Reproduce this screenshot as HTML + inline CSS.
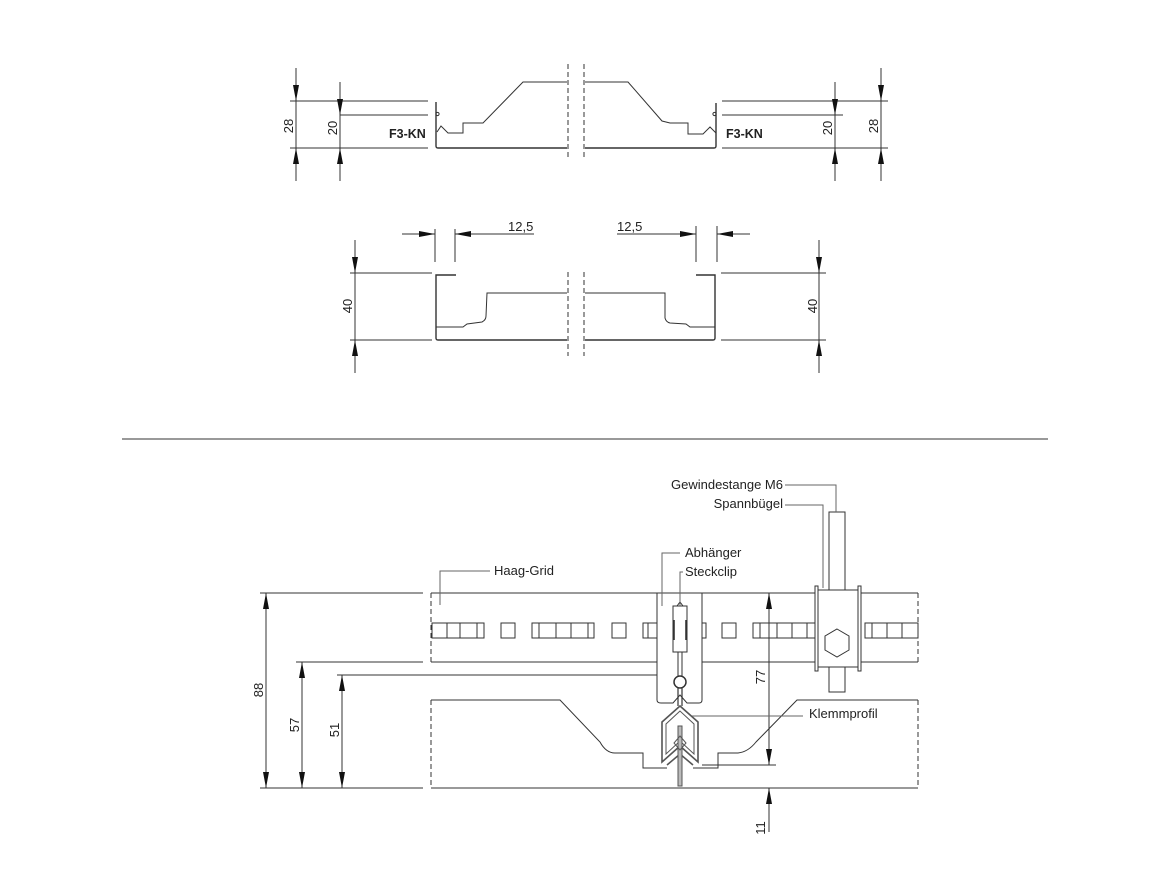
<!DOCTYPE html>
<html><head><meta charset="utf-8"><style>
html,body{margin:0;padding:0;background:#fff;}
svg{display:block;}
text{font-family:"Liberation Sans",sans-serif;fill:#222;}
</style></head><body>
<svg width="1170" height="878" viewBox="0 0 1170 878" xmlns="http://www.w3.org/2000/svg">
<defs>
<marker id="a" viewBox="0 0 10 10" refX="10" refY="5" markerWidth="10" markerHeight="6" orient="auto-start-reverse" markerUnits="userSpaceOnUse"><path d="M0,0 L10,5 L0,10Z" fill="#111"/></marker>
<marker id="b" viewBox="0 0 16 6" refX="16" refY="3" markerWidth="16" markerHeight="6" orient="auto-start-reverse" markerUnits="userSpaceOnUse"><path d="M0,0 L16,3 L0,6Z" fill="#111"/></marker>
</defs>
<g stroke="#333" stroke-width="1" fill="none">
<!-- ROW 1 left -->
<line x1="290" y1="101" x2="428" y2="101"/>
<line x1="340" y1="115" x2="428" y2="115"/>
<line x1="290" y1="148" x2="428" y2="148"/>
<line x1="296" y1="68" x2="296" y2="101" marker-end="url(#b)"/>
<line x1="296" y1="101" x2="296" y2="148"/>
<line x1="296" y1="181" x2="296" y2="148" marker-end="url(#b)"/>
<line x1="340" y1="82" x2="340" y2="115" marker-end="url(#b)"/>
<line x1="340" y1="115" x2="340" y2="148"/>
<line x1="340" y1="181" x2="340" y2="148" marker-end="url(#b)"/>
<path d="M436,102 L436,146 Q436,148 438,148 L567,148" stroke-width="1.4"/>
<circle cx="437.5" cy="114" r="1.6"/>
<path d="M437,132 L441,126 L448,133 L463,133 L463,123 L483,123 L523,82 L567,82"/>
<line x1="568" y1="64" x2="568" y2="160" stroke-dasharray="5,3"/>
<line x1="584" y1="64" x2="584" y2="160" stroke-dasharray="5,3"/>
<!-- ROW 1 right -->
<path d="M585,82 L628,82 L662,121 L670,123 L688,123 L688,134 L703,134 L710,127 L716,133"/>
<path d="M716,103 L716,146 Q716,148 714,148 L585,148" stroke-width="1.4"/>
<circle cx="714.5" cy="114" r="1.6"/>
<line x1="722" y1="101" x2="888" y2="101"/>
<line x1="722" y1="115" x2="843" y2="115"/>
<line x1="722" y1="148" x2="888" y2="148"/>
<line x1="835" y1="82" x2="835" y2="115" marker-end="url(#b)"/>
<line x1="835" y1="115" x2="835" y2="148"/>
<line x1="835" y1="181" x2="835" y2="148" marker-end="url(#b)"/>
<line x1="881" y1="68" x2="881" y2="101" marker-end="url(#b)"/>
<line x1="881" y1="101" x2="881" y2="148"/>
<line x1="881" y1="181" x2="881" y2="148" marker-end="url(#b)"/>
<!-- ROW 2 left -->
<line x1="350" y1="273" x2="432" y2="273"/>
<line x1="350" y1="340" x2="432" y2="340"/>
<line x1="355" y1="240" x2="355" y2="273" marker-end="url(#b)"/>
<line x1="355" y1="273" x2="355" y2="340"/>
<line x1="355" y1="373" x2="355" y2="340" marker-end="url(#b)"/>
<line x1="402" y1="234" x2="435" y2="234" marker-end="url(#b)"/>
<line x1="534" y1="234" x2="455" y2="234" marker-end="url(#b)"/>
<line x1="435" y1="229" x2="435" y2="262"/>
<line x1="455" y1="229" x2="455" y2="262"/>
<path d="M456,275 L436,275 L436,338 Q436,340 438,340 L567,340" stroke-width="1.4"/>
<path d="M436,327 L463,327 L467,324 L482,322 Q486,320 486,316 L487,293 L567,293"/>
<line x1="568" y1="272" x2="568" y2="356" stroke-dasharray="5,3"/>
<line x1="584" y1="272" x2="584" y2="356" stroke-dasharray="5,3"/>
<!-- ROW 2 right -->
<path d="M585,293 L665,293 L665,318 Q666,322 670,323 L686,324 L690,327 L715,327"/>
<path d="M696,275 L715,275 L715,338 Q715,340 713,340 L585,340" stroke-width="1.4"/>
<line x1="721" y1="273" x2="826" y2="273"/>
<line x1="721" y1="340" x2="826" y2="340"/>
<line x1="819" y1="240" x2="819" y2="273" marker-end="url(#b)"/>
<line x1="819" y1="273" x2="819" y2="340"/>
<line x1="819" y1="373" x2="819" y2="340" marker-end="url(#b)"/>
<line x1="617" y1="234" x2="696" y2="234" marker-end="url(#b)"/>
<line x1="750" y1="234" x2="717" y2="234" marker-end="url(#b)"/>
<line x1="696" y1="226" x2="696" y2="262"/>
<line x1="717" y1="226" x2="717" y2="262"/>
<!-- separator -->
<line x1="122" y1="439" x2="1048" y2="439"/>
<!-- BOTTOM -->
<line x1="260" y1="593" x2="423" y2="593"/>
<line x1="431" y1="593" x2="918" y2="593"/>
<line x1="296" y1="662" x2="423" y2="662"/>
<line x1="431" y1="662" x2="918" y2="662"/>
<line x1="337" y1="675" x2="673" y2="675"/>
<line x1="260" y1="788" x2="423" y2="788"/>
<line x1="431" y1="788" x2="918" y2="788"/>
<line x1="431" y1="593" x2="431" y2="662" stroke-dasharray="5,3"/>
<line x1="918" y1="593" x2="918" y2="662" stroke-dasharray="5,3"/>
<line x1="431" y1="700" x2="431" y2="788" stroke-dasharray="5,3"/>
<line x1="918" y1="700" x2="918" y2="788" stroke-dasharray="5,3"/>
<!-- holes -->
<path d="M432,623 H484 V638 H432Z M447,623 V638 M460,623 V638 M477,623 V638"/>
<rect x="501" y="623" width="14" height="15"/>
<path d="M532,623 H594 V638 H532Z M539,623 V638 M556,623 V638 M571,623 V638 M588,623 V638"/>
<rect x="612" y="623" width="14" height="15"/>
<path d="M643,623 H657 V638 H643Z M648,623 V638"/>
<rect x="702" y="623" width="4" height="15"/>
<rect x="722" y="623" width="14" height="15"/>
<path d="M753,623 H816 V638 H753Z M760,623 V638 M777,623 V638 M792,623 V638 M807,623 V638"/>
<path d="M865,623 H918 V638 H865Z M872,623 V638 M887,623 V638 M902,623 V638"/>
<!-- lower rail -->
<path d="M431,700 L560,700 L600,742 Q606,753 615,753 L643,753 L643,768 L667,768"/>
<path d="M693,768 L718,768 L718,753 L738,753 Q748,752 756,742 L797,700 L918,700"/>
<!-- dims -->
<line x1="266" y1="593" x2="266" y2="788" marker-start="url(#b)" marker-end="url(#b)"/>
<line x1="302" y1="662" x2="302" y2="788" marker-start="url(#b)" marker-end="url(#b)"/>
<line x1="342" y1="675" x2="342" y2="788" marker-start="url(#b)" marker-end="url(#b)"/>
<line x1="769" y1="593" x2="769" y2="765" marker-start="url(#b)" marker-end="url(#b)"/>
<line x1="702" y1="765" x2="776" y2="765"/>
<line x1="769" y1="832" x2="769" y2="788" marker-end="url(#b)"/>
<!-- Abhänger bracket -->
<path d="M657,593 L657,700 Q657,703 661,703 L673,703 L680,695 L687,703 L699,703 Q702,703 702,700 L702,593 Z" fill="#fff"/>
<rect x="673" y="606" width="14" height="46" fill="#fff"/>
<path d="M677,606 L680,602 L683,606"/>
<line x1="674" y1="620" x2="674" y2="640" stroke-width="1.6"/>
<line x1="686" y1="620" x2="686" y2="640" stroke-width="1.6"/>
<line x1="678" y1="652" x2="678" y2="676"/>
<line x1="682" y1="652" x2="682" y2="676"/>
<circle cx="680" cy="682" r="6" stroke-width="1.5"/>
<path d="M678,688 L678,706 M682,688 L682,706" stroke-width="1.2"/>
<!-- Klemmprofil chevron -->
<g stroke="#555" stroke-width="1.6">
<path d="M680,706 L662,722 L662,762 L680,746 L698,762 L698,722 Z"/>
<path d="M680,711 L666,724 L666,754 L680,741 L694,754 L694,724 Z" stroke-width="1"/>
<path d="M667,765 L680,754 L693,765"/>
<rect x="678" y="726" width="4" height="60" fill="#bbb" stroke-width="1"/>
<path d="M680,736 L686,743 L680,750 L674,743Z" stroke-width="1"/>
</g>
<!-- Spannbügel -->
<rect x="829" y="512" width="16" height="78" fill="#fff"/>
<rect x="829" y="667" width="16" height="25" fill="#fff"/>
<rect x="818" y="590" width="40" height="77" fill="#fff"/>
<rect x="815" y="586" width="3" height="85" fill="#fff"/>
<rect x="858" y="586" width="3" height="85" fill="#fff"/>
<polygon points="837,629 849,636 849,650 837,657 825,650 825,636"/>
<!-- leaders -->
<g stroke="#666">
<path d="M785,485 L836,485 L836,512"/>
<path d="M785,505 L823,505 L823,588"/>
<path d="M662,606 L662,553 L680,553"/>
<path d="M680,606 L680,572 L683,572"/>
<path d="M440,605 L440,571 L490,571"/>
<path d="M692,716 L803,716"/>
</g>
</g>
<!-- TEXT -->
<g font-size="13">
<text x="0" y="0" transform="translate(293,126) rotate(-90)" text-anchor="middle">28</text>
<text x="0" y="0" transform="translate(337,128) rotate(-90)" text-anchor="middle">20</text>
<text x="0" y="0" transform="translate(832,128) rotate(-90)" text-anchor="middle">20</text>
<text x="0" y="0" transform="translate(878,126) rotate(-90)" text-anchor="middle">28</text>
<text x="389" y="138" font-weight="bold" font-size="12.5">F3-KN</text>
<text x="726" y="138" font-weight="bold" font-size="12.5">F3-KN</text>
<text x="0" y="0" transform="translate(352,306) rotate(-90)" text-anchor="middle">40</text>
<text x="0" y="0" transform="translate(817,306) rotate(-90)" text-anchor="middle">40</text>
<text x="508" y="231">12,5</text>
<text x="617" y="231">12,5</text>
<text x="0" y="0" transform="translate(263,690) rotate(-90)" text-anchor="middle">88</text>
<text x="0" y="0" transform="translate(299,725) rotate(-90)" text-anchor="middle">57</text>
<text x="0" y="0" transform="translate(339,730) rotate(-90)" text-anchor="middle">51</text>
<text x="0" y="0" transform="translate(765,677) rotate(-90)" text-anchor="middle">77</text>
<text x="0" y="0" transform="translate(765,828) rotate(-90)" text-anchor="middle">11</text>
<text x="494" y="575">Haag-Grid</text>
<text x="685" y="557">Abhänger</text>
<text x="685" y="576">Steckclip</text>
<text x="783" y="489" text-anchor="end">Gewindestange M6</text>
<text x="783" y="508" text-anchor="end">Spannbügel</text>
<text x="809" y="718">Klemmprofil</text>
</g>
</svg>
</body></html>
